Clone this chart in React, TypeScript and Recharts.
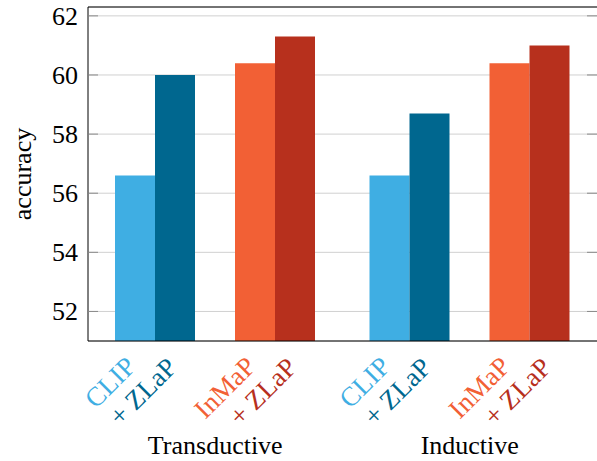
import React from "react";
import { BarChart, Bar, XAxis, YAxis, CartesianGrid, ReferenceLine } from "recharts";

const GROUPS = ["Transductive", "Inductive"];
const CLIP = [56.6, 56.6];
const CLIP_ZLAP = [60.0, 58.7];
const INMAP = [60.4, 60.4];
const INMAP_ZLAP = [61.3, 61.0];
const Y_TICKS = [52, 54, 56, 58, 60, 62];
const Y_DOMAIN: [number, number] = [51, 62.3];
const PAIR_LABELS = [
  ["CLIP", "+ ZLaP"],
  ["InMaP", "+ ZLaP"],
];

const COLORS = {
  clip: "#3FAEE3",
  clipZlap: "#00678F",
  inmap: "#F26035",
  inmapZlap: "#B7301D",
};
const PAIR_COLORS = [
  [COLORS.clip, COLORS.clipZlap],
  [COLORS.inmap, COLORS.inmapZlap],
];

const FONT = "'Liberation Serif', 'Times New Roman', serif";
const FS = 26;
const FS_ROT = 27;
const CHART_W = 597;
const CHART_H = 461;
const MARGIN = { top: 7, right: 0, bottom: 0, left: 0 };
const YAXIS_W = 88;
const XAXIS_H = 120;
const PLOT_W = CHART_W - MARGIN.left - MARGIN.right - YAXIS_W;
const BAR = 40;
const TICK_MARGIN = 10;
const TICK_LEN = 10;

const data = GROUPS.map((g, i) => ({
  group: g,
  clip: CLIP[i],
  clipZlap: CLIP_ZLAP[i],
  gap: null,
  inmap: INMAP[i],
  inmapZlap: INMAP_ZLAP[i],
}));

const YTick = (props: any) => {
  const { x, y, payload } = props;
  const x0 = x + TICK_MARGIN;
  return (
    <g>
      <line x1={x0} x2={x0 + TICK_LEN} y1={y} y2={y} stroke="#8a8a8a" strokeWidth={1} />
      <line x1={x0 + PLOT_W - TICK_LEN} x2={x0 + PLOT_W} y1={y} y2={y} stroke="#8a8a8a" strokeWidth={1} />
      <text x={x} y={y} dy="0.34em" textAnchor="end" fontFamily={FONT} fontSize={FS} fill="#000">
        {payload.value}
      </text>
    </g>
  );
};

const XTick = (props: any) => {
  const { x, y, payload } = props;
  return (
    <g>
      {PAIR_LABELS.map((pair, p) => {
        const pc = x + (p === 0 ? -1.5 : 1.5) * BAR;
        return (
          <g key={p}>
            <text
              transform={`translate(${pc - 18},${y + 27}) rotate(-45)`}
              textAnchor="end"
              fontFamily={FONT}
              fontSize={FS_ROT}
              fill={PAIR_COLORS[p][0]}
            >
              {pair[0]}
            </text>
            <text
              transform={`translate(${pc + 23},${y + 28}) rotate(-45)`}
              textAnchor="end"
              fontFamily={FONT}
              fontSize={FS_ROT}
              fill={PAIR_COLORS[p][1]}
            >
              {pair[1]}
            </text>
          </g>
        );
      })}
      <text x={x} y={y + 113} textAnchor="middle" fontFamily={FONT} fontSize={FS} fill="#000">
        {payload.value}
      </text>
    </g>
  );
};

const YLabel = (props: any) => {
  const vb = props.viewBox || { x: 0, y: 0, width: 0, height: 0 };
  return (
    <text
      transform={`translate(${vb.x + 31},${vb.y + vb.height / 2}) rotate(-90)`}
      textAnchor="middle"
      fontFamily={FONT}
      fontSize={FS}
      fill="#000"
    >
      accuracy
    </text>
  );
};

export default function App() {
  return (
    <div style={{ position: "absolute", left: 0, top: 0, background: "#fff" }}>
      <BarChart width={CHART_W} height={CHART_H} data={data} margin={MARGIN} barGap={0} barSize={BAR}>
        <CartesianGrid vertical={false} stroke="#d0d0d0" strokeWidth={1} />
        <XAxis
          dataKey="group"
          height={XAXIS_H}
          tickLine={false}
          tickSize={0}
          tickMargin={0}
          interval={0}
          axisLine={{ stroke: "#000", strokeWidth: 1 }}
          tick={<XTick />}
        />
        <YAxis
          type="number"
          domain={Y_DOMAIN}
          ticks={Y_TICKS}
          allowDataOverflow
          width={YAXIS_W}
          tickLine={false}
          tickSize={0}
          tickMargin={TICK_MARGIN}
          axisLine={{ stroke: "#000", strokeWidth: 1 }}
          tick={<YTick />}
          label={<YLabel />}
        />
        <ReferenceLine y={Y_DOMAIN[1]} stroke="#000" strokeWidth={1} />
        <Bar dataKey="clip" fill={COLORS.clip} isAnimationActive={false} />
        <Bar dataKey="clipZlap" fill={COLORS.clipZlap} isAnimationActive={false} />
        <Bar dataKey="gap" fill="none" isAnimationActive={false} />
        <Bar dataKey="inmap" fill={COLORS.inmap} isAnimationActive={false} />
        <Bar dataKey="inmapZlap" fill={COLORS.inmapZlap} isAnimationActive={false} />
      </BarChart>
    </div>
  );
}
